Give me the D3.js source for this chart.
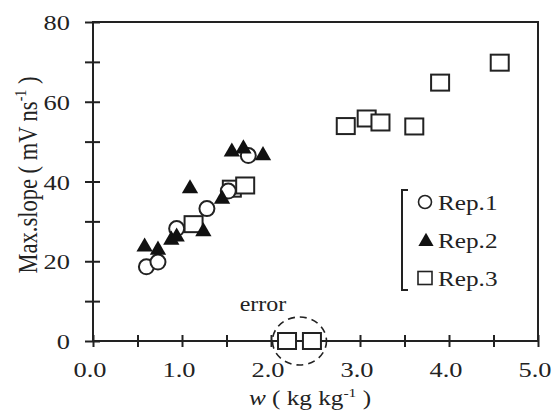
<!DOCTYPE html>
<html>
<head>
<meta charset="utf-8">
<script src="https://cdn.jsdelivr.net/npm/d3@7"></script>
<style>
  body { margin: 0; background: #fff; }
  svg text { font-family: "Liberation Serif", "Times New Roman", serif; fill: #222; }
</style>
</head>
<body>
<svg id="chart" width="552" height="412"></svg>
<script>
// Rep.1 (open circles)
const rep1W = [0.60, 0.73, 0.94, 1.28, 1.52, 1.745];
const rep1V = [18.6, 19.8, 28.2, 33.2, 37.6, 46.5];
// Rep.2 (filled triangles)
const rep2W = [0.58, 0.73, 0.88, 0.94, 1.09, 1.24, 1.45, 1.56, 1.69, 1.91];
const rep2V = [24.0, 23.2, 25.7, 26.5, 38.6, 27.8, 36.0, 47.8, 48.6, 46.9];
// Rep.3 (open squares), the two at 0 are the "error" ones
const rep3W = [1.13, 1.56, 1.71, 2.18, 2.46, 2.84, 3.075, 3.23, 3.61, 3.90, 4.57];
const rep3V = [29.3, 38.2, 39.0, 0, 0, 53.9, 55.8, 54.8, 53.8, 64.8, 69.8];

const xTicks = [0, 1, 2, 3, 4, 5];
const yTicks = [0, 20, 40, 60, 80];
const legendNames = ["Rep.1", "Rep.2", "Rep.3"];

const svg = d3.select('#chart');
const ink = '#222';
const stretch = 1.2; // the picture's text is wider than tall

const x = d3.scaleLinear().domain([0, 5]).range([93, 538]);
const y = d3.scaleLinear().domain([0, 80]).range([341, 22]);

function label(px, py, anchor, size) {
    return svg.append('g')
        .attr('transform', `translate(${px},${py}) scale(${stretch},1)`)
        .append('text')
            .attr('text-anchor', anchor)
            .attr('font-size', size);
}

// frame
svg.append('rect')
    .attr('x', x(0)).attr('y', y(80))
    .attr('width', x(5) - x(0)).attr('height', y(0) - y(80))
    .attr('fill', 'none').attr('stroke', ink).attr('stroke-width', 2);

// axes with ticks crossing the line
const xAxis = svg.append('g').attr('transform', `translate(0,${y(0)})`)
    .call(d3.axisBottom(x).tickValues(d3.range(0, 5.01, 0.5)).tickSize(0).tickFormat(''));
xAxis.select('.domain').remove();
xAxis.selectAll('.tick line').attr('y1', -6).attr('y2', 6)
    .attr('stroke', ink).attr('stroke-width', 2);

const yAxis = svg.append('g').attr('transform', `translate(${x(0)},0)`)
    .call(d3.axisLeft(y).tickValues(d3.range(0, 81, 10)).tickSize(0).tickFormat(''));
yAxis.select('.domain').remove();
yAxis.selectAll('.tick line').attr('x1', -8).attr('x2', 7)
    .attr('stroke', ink).attr('stroke-width', 2);

// tick labels
xTicks.forEach(t => label(x(t) - 3, 377, 'middle', 22).text(d3.format('.1f')(t)));
yTicks.forEach(t => label(70, y(t) + 8, 'end', 22).text(t));

// axis titles
const xt = label(310, 405, 'middle', 21);
xt.append('tspan').attr('font-style', 'italic').text('w');
xt.append('tspan').text(' ( kg kg');
xt.append('tspan').attr('font-size', 13).attr('dy', -8).text('-1');
xt.append('tspan').attr('dy', 8).text('  )');

const yt = svg.append('text')
    .attr('transform', `translate(37,175) rotate(-90) scale(1,1.2)`)
    .attr('text-anchor', 'middle')
    .attr('font-size', 22.5);
yt.append('tspan').text('Max.slope ( mV ns');
yt.append('tspan').attr('font-size', 14).attr('dy', -9).text('-1');
yt.append('tspan').attr('dy', 9).text('  )');

// error annotation
svg.append('ellipse')
    .attr('cx', x(2.32)).attr('cy', y(0))
    .attr('rx', 27).attr('ry', 24)
    .attr('fill', 'none').attr('stroke', ink).attr('stroke-width', 1.6)
    .attr('stroke-dasharray', '7,5');
label(263, 311, 'middle', 20).text('error');

// markers
const tri = d3.symbol().type(d3.symbolTriangle).size(115);

function drawSquares(g, pts) {
    g.selectAll('rect').data(pts).enter().append('rect')
        .attr('x', d => x(d[0]) - 9).attr('y', d => y(d[1]) - 8)
        .attr('width', 18).attr('height', 16)
        .attr('fill', '#fff').attr('stroke', ink).attr('stroke-width', 2);
}
function drawCircles(g, pts) {
    g.selectAll('circle').data(pts).enter().append('circle')
        .attr('cx', d => x(d[0])).attr('cy', d => y(d[1])).attr('r', 7.5)
        .attr('fill', '#fff').attr('stroke', ink).attr('stroke-width', 2);
}
function drawTriangles(g, pts) {
    g.selectAll('path').data(pts).enter().append('path')
        .attr('d', tri)
        .attr('transform', d => `translate(${x(d[0])},${y(d[1]) + 1.5})`)
        .attr('fill', '#111');
}

drawSquares(svg.append('g'), d3.zip(rep3W, rep3V));
drawCircles(svg.append('g'), d3.zip(rep1W, rep1V));
drawTriangles(svg.append('g'), d3.zip(rep2W, rep2V));

// legend with bracket
const lg = svg.append('g');
lg.append('path')
    .attr('d', 'M408,190 H402 V290 H408')
    .attr('fill', 'none').attr('stroke', ink).attr('stroke-width', 2);
const legY = [202, 240, 278];
lg.append('circle').attr('cx', 425).attr('cy', legY[0]).attr('r', 6.5)
    .attr('fill', '#fff').attr('stroke', ink).attr('stroke-width', 1.6);
lg.append('path').attr('d', d3.symbol().type(d3.symbolTriangle).size(100))
    .attr('transform', `translate(426,${legY[1] + 1.5})`).attr('fill', '#111');
lg.append('rect').attr('x', 418).attr('y', legY[2] - 6.5).attr('width', 14).attr('height', 13)
    .attr('fill', '#fff').attr('stroke', ink).attr('stroke-width', 1.6);
legendNames.forEach((n, i) => label(438, legY[i] + 7.5, 'start', 21).text(n));
</script>
</body>
</html>
